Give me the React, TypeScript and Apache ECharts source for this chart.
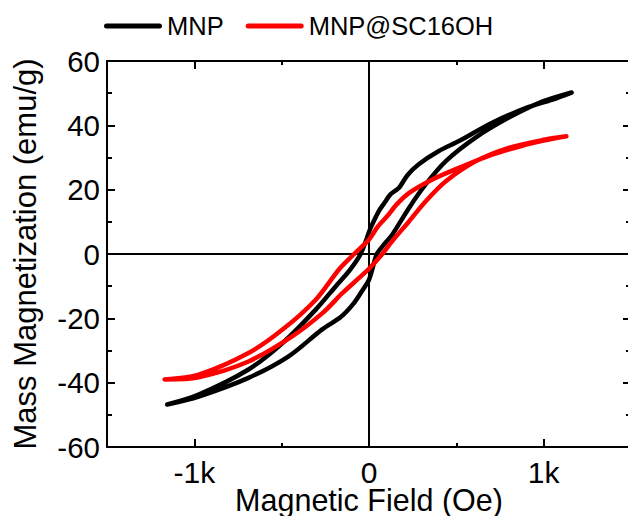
import React, { useEffect, useRef } from "react";
import * as echarts from "echarts";

// MNP loop: descending branch then ascending branch (Oe, emu/g)
const mnpField = [1160, 1050, 900, 705, 515, 400, 285, 220, 172, 124, 90, 57, 10, 0, -48, -110, -190, -305, -495, -690, -975, -1155,
  -975, -690, -460, -270, -160, -90, -40, 0, 20, 45, 90, 133, 230, 325, 440, 610, 800, 975, 1160];
const mnpMoment = [50.2, 48.0, 45.4, 40.8, 35.1, 32.0, 27.9, 24.5, 20.6, 18.6, 16.0, 13.4, 8.2, 6.8, 0, -5.0, -10.0, -17.3, -27.7, -35.9, -43.7, -46.8,
  -44.3, -38.5, -31.8, -23.5, -19.5, -15.5, -11.5, -8.0, -4.5, 0, 3.2, 6.0, 14.4, 21.7, 28.9, 36.2, 42.4, 47.0, 50.2];

// MNP@SC16OH loop
const scField = [1130, 1000, 900, 705, 515, 360, 230, 160, 105, 50, 0, -85, -172, -305, -495, -690, -975, -1170,
  -975, -690, -440, -265, -153, -60, 0, 76, 133, 230, 325, 440, 610, 800, 1010, 1130];
const scMoment = [36.6, 35.3, 34.0, 30.9, 26.8, 23.1, 19.0, 15.5, 11.8, 8.5, 4.5, 0, -4.8, -14.2, -23.5, -30.8, -37.5, -39.0,
  -38.3, -33.4, -25.6, -18.3, -12.2, -7.6, -4.6, 0, 4.0, 10.2, 16.4, 22.6, 28.8, 33.0, 35.6, 36.6];

const seriesNames = ["MNP", "MNP@SC16OH"];
const xMajorTicks = [-1000, 0, 1000];
const xMinorTicks = [-500, 500];
const xRange = [-1500, 1500];
const yRange = [-60, 60];
const yStep = 20;

const FONT = "'Liberation Sans', Arial, sans-serif";
const LEGEND_ICON = "path://M2.5,0H55.5A2.5,2.5,0,0,1,55.5,5H2.5A2.5,2.5,0,0,1,2.5,0Z";

export default function App() {
  const ref = useRef<HTMLDivElement>(null);
  useEffect(() => {
    if (!ref.current) return;
    const chart = echarts.init(ref.current, null, { renderer: "svg" });
    const black = "#000";
    const line = { color: black, width: 2 };
    const baseX = { type: "value", min: xRange[0], max: xRange[1], splitLine: { show: false } };
    const baseY = { type: "value", min: yRange[0], max: yRange[1], interval: yStep, splitLine: { show: false } };
    const fmtX = (v: number) => (v === 0 ? "0" : `${v / 1000}k`);
    chart.setOption({
      animation: false,
      textStyle: { fontFamily: FONT },
      grid: { left: 107, top: 61, width: 524, height: 386, containLabel: false, outerBoundsMode: "none" },
      legend: {
        data: seriesNames.map((n) => ({ name: n, icon: LEGEND_ICON })),
        left: 99,
        top: 8,
        itemWidth: 58,
        itemHeight: 5,
        itemGap: 22,
        textStyle: { fontSize: 25.5, color: black, fontFamily: FONT },
      },
      xAxis: [
        {
          ...baseX,
          position: "bottom",
          axisLine: { onZero: false, lineStyle: line },
          axisTick: { inside: true, length: 8, customValues: xMajorTicks, lineStyle: line },
          axisLabel: { customValues: xMajorTicks, formatter: fmtX, fontSize: 30, lineHeight: 24, color: black, margin: 13, fontFamily: FONT },
          name: "Magnetic Field (Oe)",
          nameLocation: "middle",
          nameGap: 41,
          nameMoveOverlap: false,
          nameTextStyle: { fontSize: 30.5, lineHeight: 24, color: black, fontFamily: FONT },
        },
        {
          ...baseX,
          position: "bottom",
          axisLine: { show: false, onZero: false },
          axisTick: { inside: true, length: 4, customValues: xMinorTicks, lineStyle: line },
          axisLabel: { show: false },
        },
        {
          ...baseX,
          position: "top",
          axisLine: { onZero: false, lineStyle: line },
          axisTick: { inside: true, length: 8, customValues: xMajorTicks, lineStyle: line },
          axisLabel: { show: false },
        },
        {
          ...baseX,
          position: "top",
          axisLine: { show: false, onZero: false },
          axisTick: { inside: true, length: 4, customValues: xMinorTicks, lineStyle: line },
          axisLabel: { show: false },
        },
        {
          ...baseX,
          position: "bottom",
          axisLine: { show: true, onZero: true, lineStyle: line },
          axisTick: { show: false },
          axisLabel: { show: false },
        },
      ],
      yAxis: [
        {
          ...baseY,
          position: "left",
          axisLine: { onZero: false, lineStyle: line },
          axisTick: { inside: true, length: 8, lineStyle: line },
          minorTick: { show: true, splitNumber: 2, length: 5, lineStyle: line },
          axisLabel: { fontSize: 29.5, color: black, margin: 7, fontFamily: FONT },
          name: "Mass Magnetization (emu/g)",
          nameLocation: "middle",
          nameGap: 66,
          nameMoveOverlap: false,
          nameTextStyle: { fontSize: 31, color: black, fontFamily: FONT },
        },
        {
          ...baseY,
          position: "right",
          axisLine: { onZero: false, lineStyle: line },
          axisTick: { inside: true, length: 8, lineStyle: line },
          minorTick: { show: true, splitNumber: 2, length: 5, lineStyle: line },
          axisLabel: { show: false },
        },
        {
          ...baseY,
          position: "left",
          axisLine: { show: true, onZero: true, lineStyle: line },
          axisTick: { show: false },
          axisLabel: { show: false },
        },
      ],
      series: [
        {
          name: seriesNames[0],
          type: "line",
          xAxisIndex: 0,
          yAxisIndex: 0,
          data: mnpField.map((h, i) => [h, mnpMoment[i]]),
          symbol: "none",
          smooth: 0.3,
          lineStyle: { color: "#000000", width: 4.5, cap: "round", join: "round" },
          itemStyle: { color: "#000000" },
          z: 3,
        },
        {
          name: seriesNames[1],
          type: "line",
          xAxisIndex: 0,
          yAxisIndex: 0,
          data: scField.map((h, i) => [h, scMoment[i]]),
          symbol: "none",
          smooth: 0.3,
          lineStyle: { color: "#ff0000", width: 4.5, cap: "round", join: "round" },
          itemStyle: { color: "#ff0000" },
          z: 4,
        },
      ],
    });
    return () => chart.dispose();
  }, []);
  return (
    <div
      ref={ref}
      style={{ position: "fixed", left: 0, top: 0, width: 628, height: 516, background: "#fff" }}
    />
  );
}
